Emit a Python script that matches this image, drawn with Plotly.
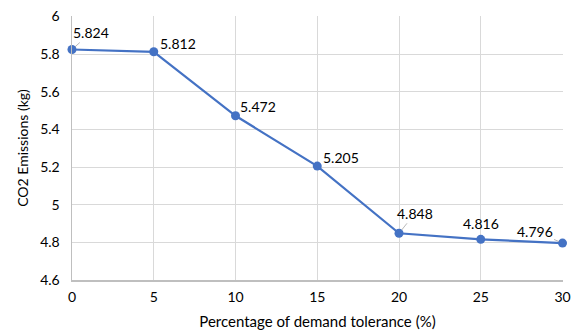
import plotly.graph_objects as go

tolerance = [0, 5, 10, 15, 20, 25, 30]
emissions = [5.824, 5.812, 5.472, 5.205, 4.848, 4.816, 4.796]
labels = ["5.824", "5.812", "5.472", "5.205", "4.848", "4.816", "4.796"]
x_ticks = [0, 5, 10, 15, 20, 25, 30]
y_ticks = [4.6, 4.8, 5.0, 5.2, 5.4, 5.6, 5.8, 6.0]
y_tick_text = ["4.6", "4.8", "5", "5.2", "5.4", "5.6", "5.8", "6"]

# label offsets in pixels (text center relative to point) and whether a leader line is drawn
offsets = [(19, -17, True), (24, -8, False), (22, -9, False), (24, -9, False),
           (16, -20, True), (0, -16, False), (-28, -12, True)]

FONT = "Lato, 'Open Sans', sans-serif"
BLUE = "#4472C4"

fig = go.Figure()
fig.add_trace(go.Scatter(
    x=tolerance, y=emissions, mode="lines+markers",
    line=dict(color=BLUE, width=2.2),
    marker=dict(color=BLUE, size=9),
    hoverinfo="skip", showlegend=False, cliponaxis=False,
))

for xv, yv, lab, (dx, dy, lead) in zip(tolerance, emissions, labels, offsets):
    if lead:
        fig.add_annotation(x=xv, y=yv, text=lab, showarrow=True, ax=dx, ay=dy,
                           arrowhead=0, arrowwidth=0.8, arrowcolor="#a6a6a6",
                           standoff=4, startstandoff=0,
                           font=dict(family=FONT, size=14, color="#000"))
    else:
        fig.add_annotation(x=xv, y=yv, text=lab, showarrow=False,
                           xshift=dx, yshift=-dy,
                           font=dict(family=FONT, size=14, color="#000"))

fig.update_layout(
    width=571, height=332,
    margin=dict(l=72, r=8, t=16, b=52, autoexpand=False),
    paper_bgcolor="white", plot_bgcolor="white",
    font=dict(family=FONT, size=14, color="#000"),
    xaxis=dict(
        range=[0, 30.03], tickvals=x_ticks, ticktext=[str(v) for v in x_ticks],
        showgrid=True, gridcolor="#d9d9d9", gridwidth=1,
        showline=True, linecolor="#bfbfbf", linewidth=1.5,
        zeroline=False, ticks="outside", ticklen=4, tickcolor="white",
        automargin=False, ticklabeloverflow="allow",
        title=dict(text="Percentage of demand tolerance (%)", font=dict(size=15), standoff=12),
        tickfont=dict(size=14),
    ),
    yaxis=dict(
        range=[4.6, 6.002], tickvals=y_ticks, ticktext=y_tick_text,
        showgrid=True, gridcolor="#d9d9d9", gridwidth=1,
        showline=True, linecolor="#bfbfbf", linewidth=1.5,
        zeroline=False, ticks="outside", ticklen=8, tickcolor="white",
        automargin=False, ticklabeloverflow="allow",
        title=dict(text="CO2 Emissions (kg)", font=dict(size=14), standoff=8),
        tickfont=dict(size=14),
    ),
)

fig.write_html("out.html", config={"displayModeBar": False, "staticPlot": True},
               post_script="document.body.style.margin='0';document.body.style.overflow='hidden';")
